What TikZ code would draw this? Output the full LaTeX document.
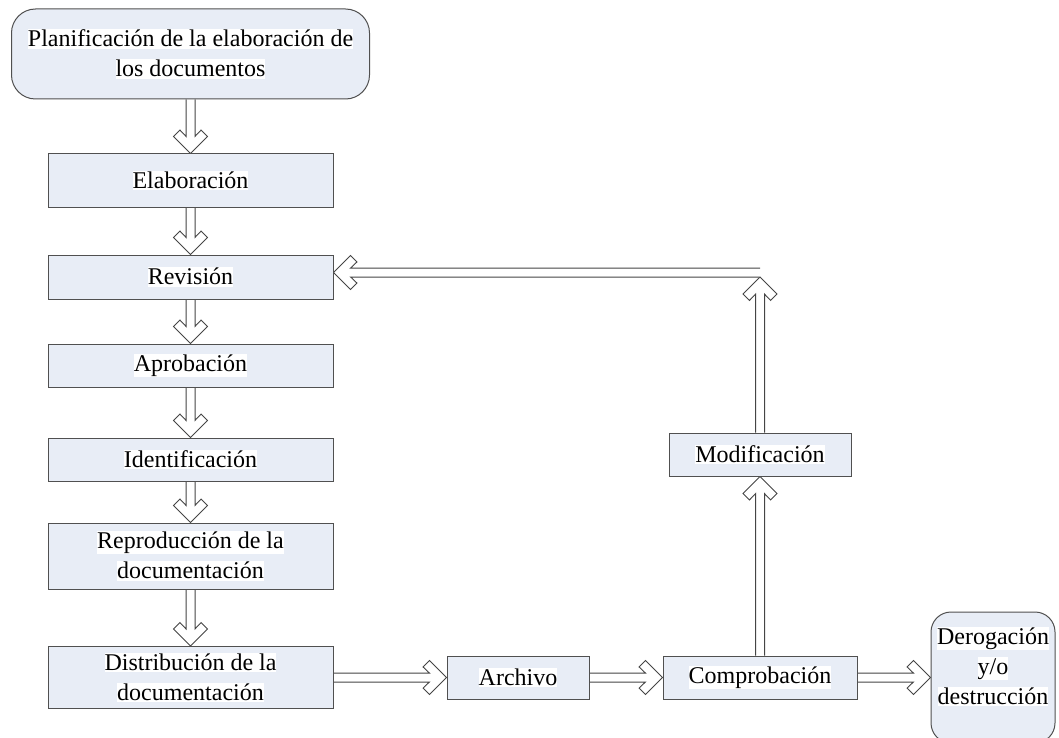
\documentclass[tikz,border=0pt]{standalone}
\usepackage{fontspec}
\setmainfont{Liberation Serif}
\usetikzlibrary{calc,backgrounds}

\definecolor{boxfill}{HTML}{E8EDF6}
\definecolor{boxline}{HTML}{505050}
\definecolor{arrowline}{HTML}{454545}

% white highlight behind each line of text
\newcommand{\hl}[1]{{\setlength{\fboxsep}{0pt}\colorbox{white}{\rule[-0.08em]{0pt}{0.8em}#1}}}

\begin{document}
\begin{tikzpicture}[x=0.75pt,y=-0.75pt,
  txt/.style={font=\fontsize{18pt}{22.5pt}\selectfont},
  stepbox/.style={txt, draw=boxline, fill=boxfill, line width=0.75pt,
    inner sep=0pt, align=center},
  wide/.style={stepbox, minimum width=285*0.75pt},
  terminal/.style={stepbox, rounded corners=18pt},
  % hollow block arrow: outline of a 9px shaft ending in an open chevron
  hollow/.style={draw=arrowline, fill=white, line width=0.75pt, line join=miter,
    to path={
      let \p1=(\tikztostart), \p2=(\tikztotarget),
          \n1={atan2(\y2-\y1,\x2-\x1)},
          \n2={\n1+90}, \n3={\n1-90}, \n4={\n1+180} in
      ($(\p1)+(\n2:3.375pt)$)
      -- ($(\p2)+(\n4:12.9pt)+(\n2:3.375pt)$)
      -- ($(\p2)+(\n4:17.55pt)+(\n2:7.95pt)$)
      -- ($(\p2)+(\n4:12.75pt)+(\n2:12.75pt)$)
      -- (\p2)
      -- ($(\p2)+(\n4:12.75pt)+(\n3:12.75pt)$)
      -- ($(\p2)+(\n4:17.55pt)+(\n3:7.95pt)$)
      -- ($(\p2)+(\n4:12.9pt)+(\n3:3.375pt)$)
      -- ($(\p1)+(\n3:3.375pt)$)
    }}
]
\clip (0,0) rectangle (1059,738);

% main column
\node[terminal, minimum width=358*0.75pt, minimum height=90*0.75pt] (plan) at (190.5,54)
  {\hl{Planificación de la elaboración de}\\\hl{los documentos}};
\node[wide, minimum height=53*0.75pt] (elab) at (190.5,180.5) {\hl{Elaboración}};
\node[wide, minimum height=44*0.75pt] (rev)  at (190.5,277)   {\hl{Revisión}};
\node[wide, minimum height=43*0.75pt] (apro) at (190.5,365.5) {\hl{Aprobación}};
\node[wide, minimum height=43*0.75pt] (iden) at (190.5,459.5) {\hl{Identificación}};
\node[wide, minimum height=66*0.75pt] (repr) at (190.5,556)
  {\hl{Reproducción de la}\\\hl{documentación}};
\node[wide, minimum height=62*0.75pt] (dist) at (190.5,677.5)
  {\hl{Distribución de la}\\\hl{documentación}};

% bottom row and feedback branch
\node[stepbox, minimum width=142*0.75pt, minimum height=43*0.75pt] (arch) at (518,677.5) {\hl{Archivo}};
\node[stepbox, minimum width=194*0.75pt, minimum height=43*0.75pt] (comp) at (760,677.5) {\hl{Comprobación}};
\node[stepbox, minimum width=182*0.75pt, minimum height=43*0.75pt] (modi) at (760,454.5) {\hl{Modificación}};
\node[terminal, rounded corners=15pt, minimum width=124*0.75pt, minimum height=131*0.75pt,
  label={[txt, align=center, yshift=8pt]center:\hl{Derogación}\\\hl{y/o}\\\hl{destrucción}}]
  (dero) at (993,677.5) {};

\coordinate (fb)    at (760,272.5);
\coordinate (fbtip) at (760,277);

\begin{scope}[on background layer]
  \draw[hollow] (plan.south) to (elab.north);
  \draw[hollow] (elab.south) to (rev.north);
  \draw[hollow] (rev.south)  to (apro.north);
  \draw[hollow] (apro.south) to (iden.north);
  \draw[hollow] (iden.south) to (repr.north);
  \draw[hollow] (repr.south) to (dist.north);
  \draw[hollow] (dist.east)  to (arch.west);
  \draw[hollow] (arch.east)  to (comp.west);
  \draw[hollow] (comp.east)  to (dero.west);
  \draw[hollow] (comp.north) to (modi.south);
  \draw[hollow] (modi.north) to (fbtip);
  \draw[hollow] (fb) to (fb -| rev.east);
\end{scope}
\end{tikzpicture}
\end{document}
